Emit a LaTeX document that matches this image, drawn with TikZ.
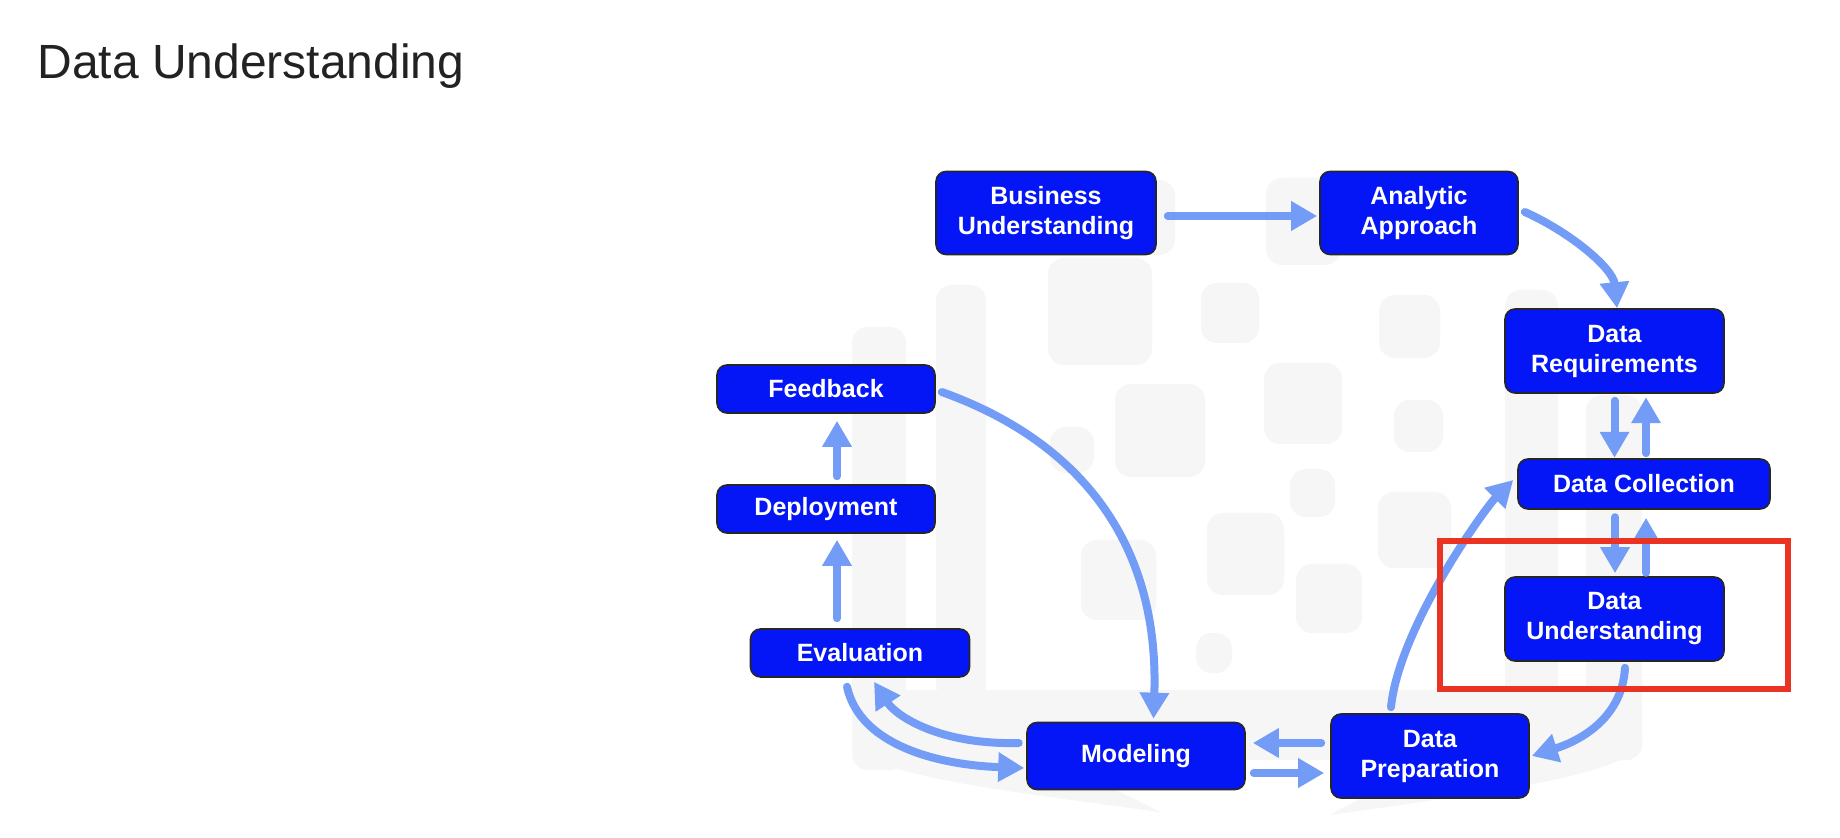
\documentclass[tikz,border=0pt]{standalone}
\usepackage{fontspec}
\setmainfont{Liberation Sans}
\usetikzlibrary{arrows.meta}
\definecolor{stageblue}{RGB}{4,22,245}
\definecolor{flowblue}{RGB}{114,156,246}
\definecolor{markred}{RGB}{234,51,35}
\definecolor{ghost}{RGB}{246,246,246}
\definecolor{titlegray}{RGB}{34,34,34}
\begin{document}
\begin{tikzpicture}[x=0.5pt,y=-0.5pt,
  stage/.style={draw=black!85,line width=0.8pt,fill=stageblue,rounded corners=5pt,
    text=white,font=\fontsize{12.5}{15}\selectfont\bfseries,align=center,inner sep=0pt},
  flow/.style={draw=flowblue,line width=4pt,line cap=round,-{Triangle[width=14pt,length=13pt]}},
  ghostbox/.style={fill=ghost,rounded corners=8pt}]
\useasboundingbox[fill=white](0,0)rectangle(1840,838);
% faint logo behind the cycle
\fill[ghostbox](852,690)rectangle(1642,760);
\fill[ghost](852,740)..controls(860,775)and(1000,790)..(1160,812)..controls(1080,770)and(1000,745)..(986,700)--cycle;
\fill[ghost](1642,740)..controls(1634,775)and(1490,792)..(1330,815)..controls(1410,770)and(1490,745)..(1505,700)--cycle;
\foreach \xa/\ya/\xb/\yb in {852/327/906/770,936/285/986/700,1048/258/1152/365,
  1120/180/1175/255,1266/178/1341/265,1201/283/1259/343,1379/295/1440/358,
  1264/363/1342/444,1115/384/1205/477,1050/427/1094/473,1394/400/1443/452,
  1290/469/1335/517,1207/513/1284/595,1378/492/1451/568,1081/540/1156/620,
  1296/564/1362/633,1196/633/1232/673,1505/290/1558/700,1586/395/1642/760}
  \fill[ghostbox](\xa,\ya)rectangle(\xb,\yb);
\node[anchor=base west,font=\fontsize{24}{29}\selectfont,text=titlegray,inner sep=0pt](title)at(37,79){Data Understanding};
% stages
\node[stage,minimum width=110pt,minimum height=41.5pt](bu)at(1046,213){Business\\Understanding};
\node[stage,minimum width=99pt,minimum height=41.5pt](aa)at(1419,213){Analytic\\Approach};
\node[stage,minimum width=109.5pt,minimum height=42pt](dr)at(1614.5,351){Data\\Requirements};
\node[stage,minimum width=126pt,minimum height=25pt](dc)at(1644,484){Data Collection};
\node[stage,minimum width=109.5pt,minimum height=42pt](du)at(1614.5,619){Data\\Understanding};
\node[stage,minimum width=99pt,minimum height=42pt](dp)at(1430,756){Data\\Preparation};
\node[stage,minimum width=109pt,minimum height=33.5pt](mod)at(1136,756){Modeling};
\node[stage,minimum width=109.5pt,minimum height=24pt](ev)at(860,653){Evaluation};
\node[stage,minimum width=109pt,minimum height=24pt](dep)at(826,509){Deployment};
\node[stage,minimum width=109pt,minimum height=24pt](fb)at(826,389){Feedback};
% arrows
\draw[flow]([shift={(11,3)}]bu.east)--([shift={(-2,3)}]aa.west);
\draw[flow]([shift={(6,-1)}]aa.east)..controls+(45,20)and+(-4,-40)..([shift={(2.5,0)}]dr.north);
\draw[flow]([shift={(0,7)}]dr.south)--([shift={(0,64)}]dr.south);
\draw[flow]([shift={(2,-5)}]dc.north)--([shift={(2,-61)}]dc.north);
\draw[flow]([shift={(0.5,-59)}]du.north)--([shift={(0.5,-3)}]du.north);
\draw[flow]([shift={(2,63)}]dc.south)--([shift={(2,8)}]dc.south);
\draw[flow]([shift={(10.5,6)}]du.south)..controls+(-3,53)and+(44,-14)..([shift={(2,0)}]dp.east);
\draw[flow]([shift={(-39,-6)}]dp.north)..controls+(8,-80)and+(-28,28)..([shift={(-4,-4)}]dc.west);
\draw[flow]([shift={(-9,-13)}]dp.west)--([shift={(7,-13)}]mod.east);
\draw[flow]([shift={(8,17)}]mod.east)--([shift={(-6,17)}]dp.west);
\draw[flow]([shift={(-7.5,-13)}]mod.west)..controls+(-79.5,2)and+(22,34)..([shift={(14,4)}]ev.south);
\draw[flow]([shift={(-13,9)}]ev.south)..controls+(13,59)and+(-85,-3)..([shift={(-2,12)}]mod.west);
\draw[flow]([shift={(6,3)}]fb.east)..controls+(134,48)and+(6,-180)..([shift={(17.5,-3)}]mod.north);
\draw[flow]([shift={(-23,-10)}]ev.north)--([shift={(11,6)}]dep.south);
\draw[flow]([shift={(11,-8)}]dep.north)--([shift={(11,7)}]fb.south);
% highlight
\node[draw=markred,line width=3pt,minimum width=174pt,minimum height=74pt,inner sep=0pt](hl)at([shift={(-0.5,-4)}]du.center){};
\end{tikzpicture}
\end{document}
